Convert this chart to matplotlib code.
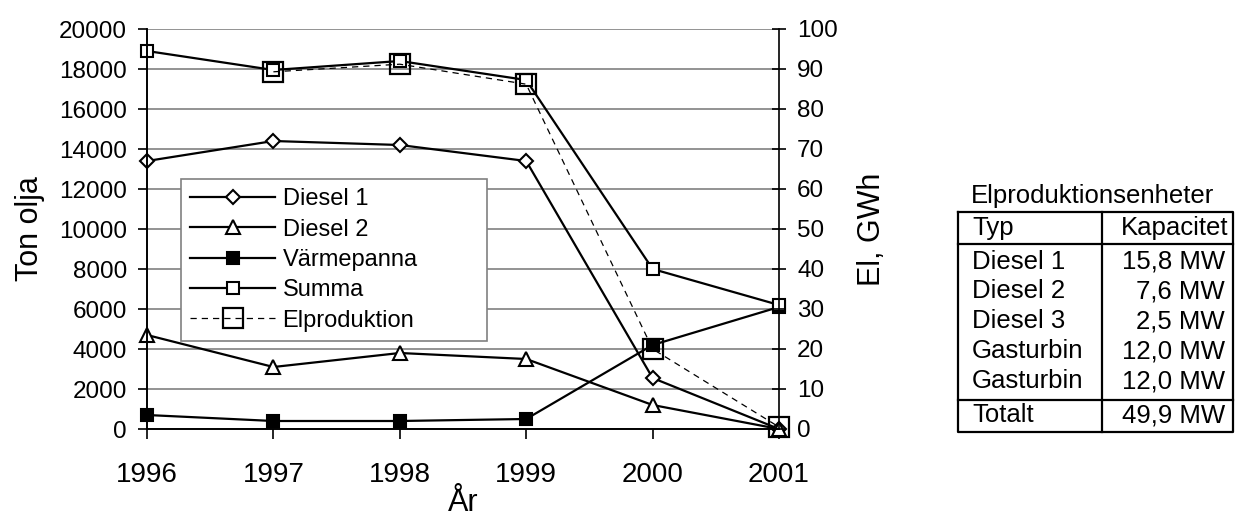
import numpy as np
import matplotlib.pyplot as plt

plt.rcParams['font.family'] = ['Liberation Sans', 'DejaVu Sans']

# --- data ---
years = [1996, 1997, 1998, 1999, 2000, 2001]
diesel1 = [13400, 14400, 14200, 13400, 2550, 0]
diesel2 = [4700, 3100, 3800, 3500, 1200, 0]
varmepanna = [700, 400, 400, 500, 4200, 6100]
summa = [18900, 17950, 18400, 17450, 8000, 6200]
el_years = [1997, 1998, 1999, 2000, 2001]
elproduktion = [89.3, 91.2, 86.2, 20, 0.5]

tab_title = 'Elproduktionsenheter'
tab_header = ['Typ', 'Kapacitet']
tab_typ = ['Diesel 1', 'Diesel 2', 'Diesel 3', 'Gasturbin', 'Gasturbin']
tab_kap = ['15,8 MW', '7,6 MW', '2,5 MW', '12,0 MW', '12,0 MW']
tab_total = ['Totalt', '49,9 MW']

# --- figure ---
W, H = 1235, 520
fig = plt.figure(figsize=(W / 100, H / 100), dpi=100)
ax = fig.add_axes([147 / W, 1 - 429 / H, (779 - 147) / W, 400 / H])
ax2 = ax.twinx()

lw = 1.6
common = dict(color='black', lw=lw, mew=1.5, clip_on=False)
l1, = ax.plot(years, diesel1, marker='D', ms=7, mfc='white', mec='black', label='Diesel 1', **common)
l2, = ax.plot(years, diesel2, marker='^', ms=10, mfc='white', mec='black', label='Diesel 2', **common)
l3, = ax.plot(years, varmepanna, marker='s', ms=9, mfc='black', mec='black', label='Värmepanna', **common)
l4, = ax.plot(years, summa, marker='s', ms=9, mfc='white', mec='black', label='Summa', **common)
l5, = ax2.plot(el_years, elproduktion, color='black', lw=0.9, ls=(0, (5, 4)), marker='s', ms=14,
               mfc='none', mec='black', mew=1.6, clip_on=False, label='Elproduktion')

ax.set_xlim(1996, 2001)
ax.set_ylim(0, 20000)
ax2.set_ylim(0, 100)
ax.set_xticks(years)
ax.set_yticks(np.arange(0, 20001, 2000))
ax2.set_yticks(np.arange(0, 101, 10))

ax.yaxis.grid(True, color='#808080', lw=1.2)
ax.set_axisbelow(True)
for a in (ax, ax2):
    a.spines['top'].set_visible(False)
    for s in a.spines.values():
        s.set_linewidth(1.2)
ax.spines['right'].set_visible(False)

ax.tick_params(axis='y', direction='out', length=6.5, width=1.2, labelsize=17.5, pad=8)
ax.tick_params(axis='x', direction='out', length=7, width=1.2, labelsize=20, pad=17)
ax2.tick_params(axis='y', direction='inout', length=10, width=1.2, labelsize=17.5, pad=8)

ax.set_ylabel('Ton olja', fontsize=22, labelpad=10)
ax2.set_ylabel('El, GWh', fontsize=22, labelpad=14)
ax.set_xlabel('År', fontsize=22, labelpad=0)

leg = ax2.legend(handles=[l1, l2, l3, l4, l5], loc='lower left',
                 bbox_to_anchor=((181 - 147) / 632, (429 - 341) / 400, (487 - 181) / 632, (341 - 165) / 400),
                 mode='expand', fontsize=17, handlelength=3.6, handletextpad=0.3,
                 labelspacing=0.35, borderpad=0.4, borderaxespad=0, fancybox=False,
                 edgecolor='#808080', framealpha=1)
leg.get_frame().set_linewidth(1.2)

# --- table (pixel coordinates) ---
tab = fig.add_axes([0, 0, 1, 1])
tab.set_xlim(0, W)
tab.set_ylim(H, 0)
tab.axis('off')
x0, x1, xm = 958, 1233, 1102
y_top, y_head, y_sep, y_bot = 212, 244, 400, 432
tlw = 1.6
tab.plot([x0, x1, x1, x0, x0], [y_top, y_top, y_bot, y_bot, y_top], color='black', lw=tlw)
tab.plot([x0, x1], [y_head, y_head], color='black', lw=tlw)
tab.plot([x0, x1], [y_sep, y_sep], color='black', lw=tlw)
tab.plot([xm, xm], [y_top, y_bot], color='black', lw=tlw)
fs = 18.5
tab.text((x0 + x1) / 2 - 3, 196, tab_title, fontsize=fs, ha='center', va='center')
tab.text(x0 + 14, 228, tab_header[0], fontsize=fs, ha='left', va='center')
tab.text(x1 - 5, 228, tab_header[1], fontsize=fs, ha='right', va='center')
row_y = [262, 291, 321, 351, 381]
for yy, t, k in zip(row_y, tab_typ, tab_kap):
    tab.text(x0 + 14, yy, t, fontsize=fs, ha='left', va='center')
    tab.text(x1 - 8, yy, k, fontsize=fs, ha='right', va='center')
tab.text(x0 + 14, 415, tab_total[0], fontsize=fs, ha='left', va='center')
tab.text(x1 - 8, 415, tab_total[1], fontsize=fs, ha='right', va='center')

fig.savefig('out.png', dpi=100)
